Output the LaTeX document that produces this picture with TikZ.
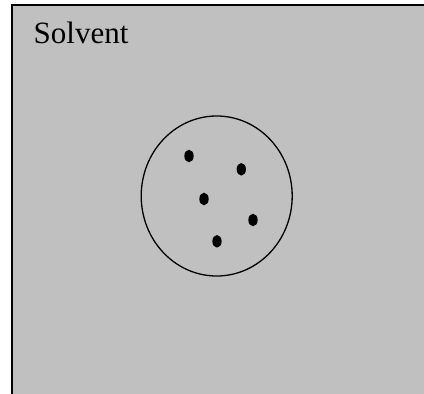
\documentclass[tikz,border=0pt]{standalone}
\usepackage{fontspec}
\setmainfont{Liberation Serif}
\usepackage{tikz}
\usetikzlibrary{shapes.geometric}

\begin{document}
\begin{tikzpicture}[x=1pt,y=-1pt,solvent/.style={fill=solventgray},cell/.style={ellipse,draw,line width=1.3pt,minimum width=151pt,minimum height=160pt,inner sep=0pt},solute/.style={ellipse,fill=black,minimum width=9.3pt,minimum height=12.6pt,inner sep=0pt}]
\definecolor{solventgray}{RGB}{192,192,192}
\useasboundingbox (0,0) rectangle (424,394);
\fill[solvent] (12,4.5) rectangle (424,394);
\draw[line width=2pt] (12,394) -- (12,4.5) -- (424,4.5);
\node[anchor=base west,inner sep=0pt,font=\fontsize{31}{31}\selectfont] (label) at (33.5,43.5) {Solvent};
\node[cell] (drop) at (216.7,196) {};
\foreach \x/\y/\n in %
{189/156/a,241.3/169.3/b,204/199/c,253/220/d,217/241.3/e} {
   \node[solute] (\n) at (\x,\y) {};
}
\end{tikzpicture}
\end{document}
